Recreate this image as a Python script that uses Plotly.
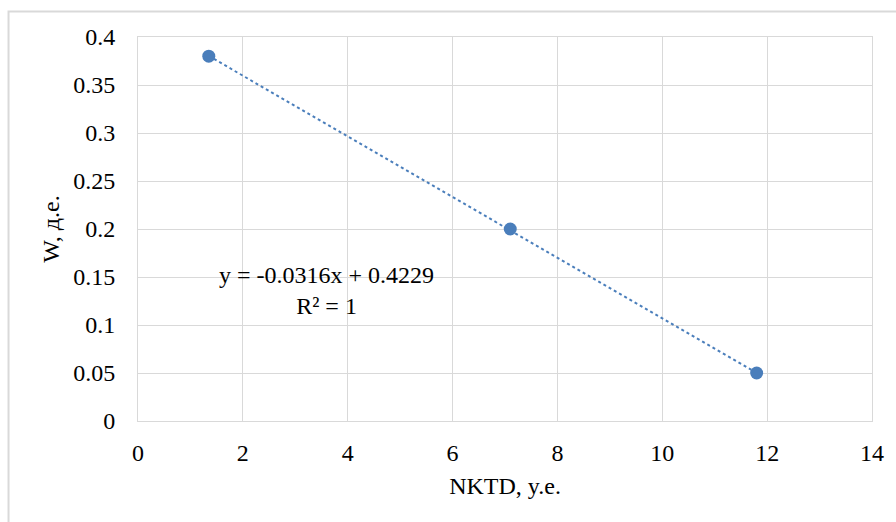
import plotly.graph_objects as go

# Data
nktd = [1.35, 7.1, 11.8]
w_values = [0.38, 0.20, 0.05]
trend_slope = -0.0316
trend_intercept = 0.4229
equation_text = "y = -0.0316x + 0.4229<br>R² = 1"
x_title = "NKTD, y.e."
y_title = "W, д.е."

trend_x = [min(nktd), max(nktd)]
trend_y = [trend_slope * v + trend_intercept for v in trend_x]

blue = "#4A7EBB"
grid = "#D9D9D9"
font_family = "Times New Roman, Liberation Serif, DejaVu Serif, serif"

fig = go.Figure()
fig.add_trace(go.Scatter(
    x=trend_x, y=trend_y, mode="lines",
    line=dict(color=blue, width=2, dash="dot"),
    hoverinfo="skip", showlegend=False,
))
fig.add_trace(go.Scatter(
    x=nktd, y=w_values, mode="markers",
    marker=dict(color=blue, size=13),
    showlegend=False,
))

fig.add_annotation(
    x=3.59, y=0.136, xref="x", yref="y",
    text=equation_text, showarrow=False, align="center",
    font=dict(family=font_family, size=24, color="#000000"),
)

# Outer chart border
fig.add_shape(
    type="rect", xref="paper", yref="paper",
    x0=-0.1764, x1=1.05, y0=-0.3, y1=1.0664,
    line=dict(color=grid, width=2), fillcolor="rgba(0,0,0,0)", layer="below",
)

fig.update_layout(
    width=896, height=522,
    margin=dict(l=138, r=24, t=37, b=101),
    paper_bgcolor="white", plot_bgcolor="white",
    font=dict(family=font_family, size=24, color="#000000"),
    xaxis=dict(
        range=[0, 14], dtick=2, tick0=0,
        showgrid=True, gridcolor=grid, gridwidth=1,
        showline=True, linecolor=grid, linewidth=1, mirror=True,
        zeroline=False, ticks="", ticklabelstandoff=10,
        title=dict(text=x_title, standoff=12, font=dict(family=font_family, size=24)),
        tickfont=dict(family=font_family, size=24),
    ),
    yaxis=dict(
        range=[0, 0.4], dtick=0.05, tick0=0,
        showgrid=True, gridcolor=grid, gridwidth=1,
        showline=True, linecolor=grid, linewidth=1, mirror=True,
        zeroline=False, ticks="", ticklabelstandoff=17,
        title=dict(text=y_title, standoff=6, font=dict(family=font_family, size=24)),
        tickfont=dict(family=font_family, size=24),
    ),
)

fig.write_html("out.html")
